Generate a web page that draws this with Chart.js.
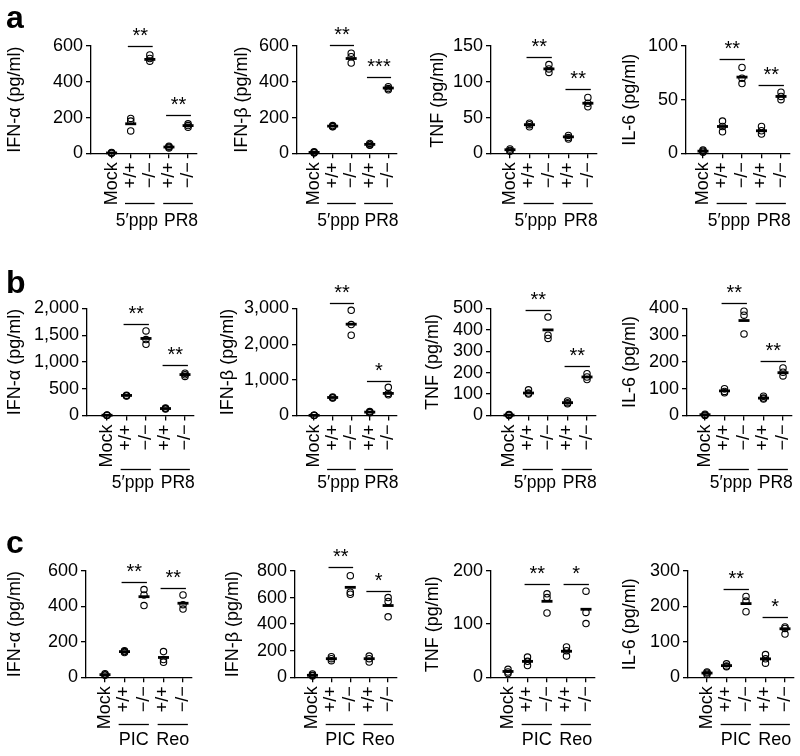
<!DOCTYPE html>
<html>
<head>
<meta charset="utf-8">
<script src="https://cdn.jsdelivr.net/npm/chart.js@4.4.0/dist/chart.umd.min.js"></script>
<style>
  body { margin: 0; background: #fff; width: 800px; height: 756px; position: relative; overflow: hidden; }
  canvas { position: absolute; }
</style>
</head>
<body>
<div id="wrap"></div>
<script>
// ---- data ----
const xLabels = ['Mock', '+/+', '−/−', '+/+', '−/−'];
const titles = ['IFN-α (pg/ml)', 'IFN-β (pg/ml)', 'TNF (pg/ml)', 'IL-6 (pg/ml)'];
const groupsAB = ['5′ppp', 'PR8'];
const groupsC = ['PIC', 'Reo'];

// row a
const maxA = [600, 600, 150, 100];
const stepA = [200, 200, 50, 50];
const ptsA = [
  [[2, 5, 0], [195, 180, 125], [550, 530, 515], [40, 35, 30], [165, 155, 145]],
  [[5, 2, 8], [155, 150, 148], [560, 540, 505], [55, 48, 45], [372, 362, 355]],
  [[6, 4, 3], [42, 40, 37], [124, 118, 113], [25, 22, 20], [78, 70, 65]],
  [[3, 2, 1], [30, 25, 20], [80, 70, 65], [25, 21, 18], [57, 53, 50]]
];
const meanA = [[2, 165, 525, 35, 155], [5, 152, 530, 50, 365], [5, 40, 118, 23, 70], [2, 25, 71, 21, 53]];
const sigA = [[598, 214], [606, 427], [134, 90], [88, 64]];
const starsA = [['**', '**'], ['**', '***'], ['**', '**'], ['**', '**']];

// row b
const maxB = [2000, 3000, 500, 400];
const stepB = [500, 1000, 100, 100];
const ptsB = [
  [[5, 0, 10], [380, 370, 365], [1580, 1420, 1330], [140, 130, 120], [790, 760, 730]],
  [[5, 0, 10], [520, 500, 490], [2950, 2550, 2250], [110, 90, 80], [790, 620, 580]],
  [[3, 0, 5], [120, 105, 100], [460, 375, 360], [68, 60, 55], [195, 180, 168]],
  [[5, 2, 0], [100, 90, 85], [390, 375, 305], [72, 65, 62], [178, 162, 148]]
];
const meanB = [[5, 375, 1440, 130, 765], [5, 505, 2560, 95, 620], [2, 105, 400, 60, 180], [3, 92, 355, 65, 160]];
const sigB = [[1719, 950], [3158, 978], [494, 230], [419, 202]];
const starsB = [['**', '**'], ['**', '*'], ['**', '**'], ['**', '**']];

// row c
const maxC = [600, 800, 200, 300];
const stepC = [200, 200, 100, 100];
const ptsC = [
  [[20, 15, 12], [150, 145, 140], [495, 465, 405], [145, 100, 85], [465, 410, 385]],
  [[25, 15, 10], [155, 140, 125], [765, 640, 625], [160, 140, 115], [600, 570, 455]],
  [[15, 10, 7], [38, 30, 22], [157, 150, 121], [57, 50, 40], [162, 122, 101]],
  [[15, 12, 8], [38, 32, 30], [228, 215, 185], [64, 52, 40], [142, 138, 122]]
];
const meanC = [[15, 145, 455, 112, 418], [15, 140, 677, 140, 540], [11, 30, 143, 49, 128], [12, 33, 208, 52, 137]];
const sigC = [[538, 506], [830, 650], [175, 175], [248, 171]];
const starsC = [['**', '**'], ['**', '*'], ['**', '*'], ['**', '*']];

// ---- layout ----
const rowTop = [0, 245, 500];
const rowH = [245, 255, 256];
const plotTop = [46, 308.5, 571];
const plotBottom = [153.3, 415.5, 677.3];
const axisLeft = [[91, 297, 491, 686], [87, 297, 491, 687], [86, 295, 491, 688]];
const mockX = [[112, 315, 510, 703], [107, 315, 509, 705], [105, 313, 508, 707]];
const titleX = [[15, 242, 438, 630], [15, 228, 433, 630], [15, 233, 433, 630]];
const underOff = [50, 53, 47];
const groupOff = [68, 68, 63];
const groupFont = [17.5, 17.5, 18];
const groupShift = [3, 3, 0];
const letters = ['a', 'b', 'c'];
const letterBase = [28, 293, 553];
const SP = 19.5, CW = 215, FONT = 'Liberation Sans, Arial, Helvetica, sans-serif';

const rows = [
  { max: maxA, step: stepA, pts: ptsA, mean: meanA, sig: sigA, stars: starsA, groups: groupsAB },
  { max: maxB, step: stepB, pts: ptsB, mean: meanB, sig: sigB, stars: starsB, groups: groupsAB },
  { max: maxC, step: stepC, pts: ptsC, mean: meanC, sig: sigC, stars: starsC, groups: groupsC }
];

Chart.defaults.font.family = FONT;
Chart.defaults.color = '#000';

const annotate = {
  id: 'annotate',
  afterDraw(chart, args, o) {
    const { ctx, chartArea } = chart;
    const x = chart.scales.x, y = chart.scales.y;
    ctx.save();
    ctx.strokeStyle = '#000';
    ctx.fillStyle = '#000';
    ctx.lineWidth = 1.3;
    ctx.textAlign = 'center';
    // significance bars
    o.sig.forEach((v, i) => {
      const a = 1 + 2 * i;
      const x1 = x.getPixelForValue(a - 0.15), x2 = x.getPixelForValue(a + 1.15);
      const yy = Math.round(y.getPixelForValue(v)) + 0.5;
      ctx.beginPath(); ctx.moveTo(x1, yy); ctx.lineTo(x2, yy); ctx.stroke();
      ctx.font = '20px ' + FONT;
      ctx.textBaseline = 'alphabetic';
      ctx.fillText(o.stars[i], (x1 + x2) / 2, yy - 5);
    });
    // group underlines and labels
    o.groups.forEach((g, i) => {
      const a = 1 + 2 * i;
      const x1 = x.getPixelForValue(a - 0.3), x2 = x.getPixelForValue(a + 1.25);
      const yy = Math.round(chartArea.bottom + o.under) + 0.5;
      ctx.beginPath(); ctx.moveTo(x1, yy); ctx.lineTo(x2, yy); ctx.stroke();
      ctx.font = o.gFont + 'px ' + FONT;
      ctx.textBaseline = 'middle';
      const cx = (x1 + x2) / 2 + (i === 0 ? -o.gShift : o.gShift);
      ctx.fillText(g, cx, chartArea.bottom + o.label);
    });
    if (o.letter) {
      ctx.font = 'bold 32px ' + FONT;
      ctx.textAlign = 'left';
      ctx.textBaseline = 'alphabetic';
      ctx.fillText(o.letter, 6, o.letterY);
    }
    ctx.restore();
  }
};

const wrap = document.getElementById('wrap');

rows.forEach((row, r) => {
  for (let c = 0; c < 4; c++) {
    const colLeft = c * 200;
    const cv = document.createElement('canvas');
    cv.width = CW; cv.height = rowH[r];
    cv.style.left = colLeft + 'px';
    cv.style.top = rowTop[r] + 'px';
    wrap.appendChild(cv);

    const titleOffset = 18 * 1.2 / 2;
    const scaleLeft = titleX[r][c] - titleOffset;
    const yW = axisLeft[r][c] - scaleLeft;
    const xMin = -(mockX[r][c] - axisLeft[r][c]) / SP;
    const xMax = 4 + 9 / SP;
    const right = mockX[r][c] + 4 * SP + 9;
    const padTop = plotTop[r] - rowTop[r];
    const xH = rowH[r] - (plotBottom[r] - rowTop[r]);

    const circles = [];
    row.pts[c].forEach((g, i) => g.forEach(v => circles.push({ x: i, y: v })));
    const means = row.mean[c].map((v, i) => ({ x: i, y: v }));

    new Chart(cv, {
      type: 'scatter',
      data: {
        datasets: [
          {
            data: means,
            pointStyle: 'line',
            pointRadius: 5.5,
            pointBorderWidth: 2.8,
            pointBorderColor: '#000',
            clip: false
          },
          {
            data: circles,
            pointStyle: 'circle',
            pointRadius: 3.2,
            pointBorderWidth: 1.1,
            pointBorderColor: '#000',
            pointBackgroundColor: 'rgba(0,0,0,0)',
            clip: false
          }
        ]
      },
      options: {
        responsive: false,
        animation: false,
        events: [],
        devicePixelRatio: 1,
        layout: {
          autoPadding: false,
          padding: { left: scaleLeft - colLeft, top: padTop, right: colLeft + CW - right, bottom: 0 }
        },
        plugins: {
          legend: { display: false },
          tooltip: { enabled: false },
          annotate: {
            sig: row.sig[c], stars: row.stars[c], groups: row.groups,
            under: underOff[r], label: groupOff[r],
            gFont: groupFont[r], gShift: groupShift[r],
            letter: c === 0 ? letters[r] : null,
            letterY: letterBase[r] - rowTop[r]
          }
        },
        scales: {
          x: {
            type: 'linear',
            min: xMin,
            max: xMax,
            afterBuildTicks: s => { s.ticks = [0, 1, 2, 3, 4].map(v => ({ value: v })); },
            afterFit: s => { s.height = xH; },
            ticks: {
              callback: v => xLabels[v],
              font: { size: 18 },
              color: '#000',
              minRotation: 90,
              maxRotation: 90,
              autoSkip: false,
              padding: 4
            },
            grid: { drawOnChartArea: false, drawTicks: true, tickLength: 5, color: '#000', lineWidth: 1.3 },
            border: { color: '#000', width: 1.3 }
          },
          y: {
            min: 0,
            max: row.max[c],
            afterFit: s => { s.width = yW; },
            ticks: {
              stepSize: row.step[c],
              autoSkip: false,
              callback: v => v.toLocaleString('en-US'),
              font: { size: 18 },
              color: '#000',
              padding: 3
            },
            grid: { drawOnChartArea: false, drawTicks: true, tickLength: 5, color: '#000', lineWidth: 1.3 },
            border: { color: '#000', width: 1.3 },
            title: { display: true, text: titles[c], font: { size: 18 }, color: '#000', padding: 0 }
          }
        }
      },
      plugins: [annotate]
    });
  }
});
</script>
</body>
</html>
